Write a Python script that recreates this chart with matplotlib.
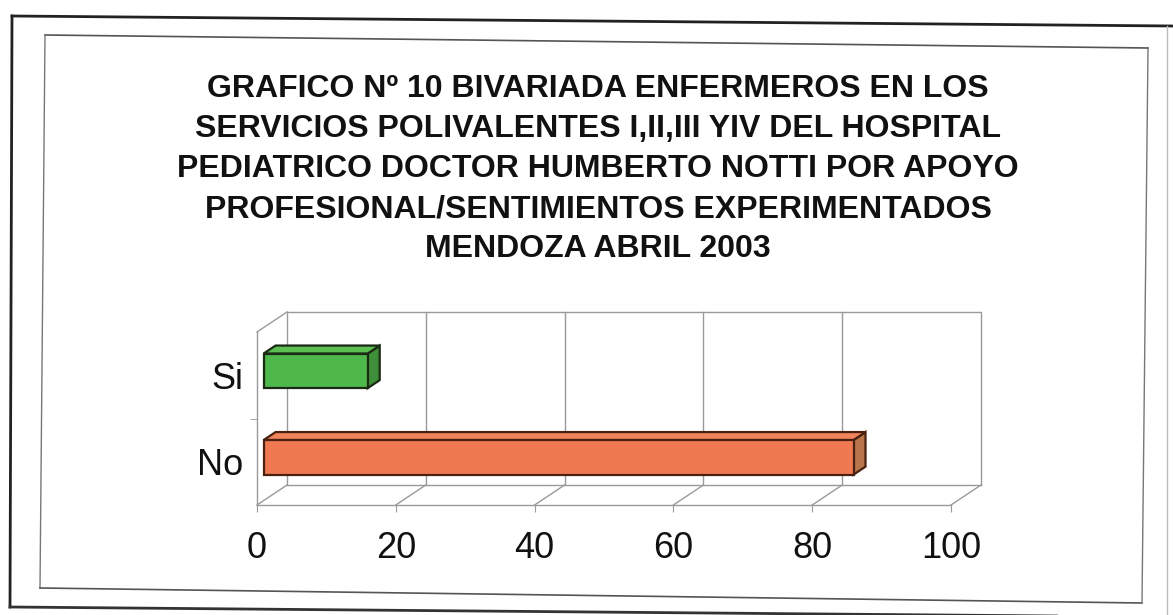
import matplotlib
matplotlib.use("Agg")
import matplotlib.pyplot as plt
from matplotlib.patches import Polygon
from matplotlib.lines import Line2D

# ---- data ----
categories = ["No", "Si"]
values = [85, 15]
xticks = [0, 20, 40, 60, 80, 100]
xticklabels = ["0", "20", "40", "60", "80", "100"]
title_lines = [
    "GRAFICO Nº 10 BIVARIADA ENFERMEROS EN LOS",
    "SERVICIOS POLIVALENTES I,II,III YIV DEL HOSPITAL",
    "PEDIATRICO DOCTOR HUMBERTO NOTTI POR APOYO",
    "PROFESIONAL/SENTIMIENTOS EXPERIMENTADOS",
    "MENDOZA ABRIL 2003",
]
face_colors = ["#ef7a52", "#4fb84a"]
top_colors = ["#f0845c", "#5cbf52"]
side_colors = ["#b8744a", "#3f8f3a"]
edge_colors = ["#4a2010", "#1a2a14"]

W, H = 1173, 615
fig = plt.figure(figsize=(W / 100, H / 100), dpi=100)
fig.patch.set_facecolor("white")

# front plane of the 3D box (pixels, top-origin)
x0px, x1px, ytop, ybot = 257, 951, 332, 505
ax = fig.add_axes([x0px / W, 1 - ybot / H, (x1px - x0px) / W, (ybot - ytop) / H])
ax.set_xlim(0, 100)
ax.set_ylim(0, 2)
ax.set_facecolor("none")

grid_c = "#9a9a9a"
for s in ["top", "right"]:
    ax.spines[s].set_visible(False)
for s in ["left", "bottom"]:
    ax.spines[s].set_color(grid_c)
    ax.spines[s].set_linewidth(1.0)

ax.set_xticks(xticks)
ax.set_xticklabels(xticklabels, fontsize=26, family="Liberation Sans", color="#111111")
ax.tick_params(axis="x", length=5, color=grid_c, pad=14)
ypos = [0.5, 1.5]
ax.set_yticks(ypos)
ax.set_yticklabels(categories, fontsize=26, family="Liberation Sans", color="#111111")
ax.tick_params(axis="y", length=0, pad=10)
ax.set_yticks([1.0], minor=True)
ax.tick_params(axis="y", which="minor", length=5, color=grid_c)

# depth offset in data units
px_x = (x1px - x0px) / 100.0
px_y = (ybot - ytop) / 2.0
DX, DY = 30 / px_x, 20 / px_y


def off(f):
    return f * DX, f * DY


bx, by = off(1.0)
kw = dict(color=grid_c, lw=1.0, clip_on=False)
# back wall
ax.plot([0 + bx, 100 + bx, 100 + bx], [2 + by, 2 + by, 0 + by], **kw)
ax.plot([0 + bx, 0 + bx], [0 + by, 2 + by], **kw)
ax.plot([0 + bx, 100 + bx], [0 + by, 0 + by], **kw)
for t in xticks[1:-1]:
    ax.plot([t + bx, t + bx], [0 + by, 2 + by], **kw)
# floor diagonals
for t in xticks:
    ax.plot([t, t + bx], [0, by], **kw)
# left wall top diagonal
ax.plot([0, bx], [2, 2 + by], **kw)

# bars
h = 0.2
fx, fy = off(0.22)
kx, ky = off(0.62)
for i, (c, v) in enumerate(zip(ypos, values)):
    ec = edge_colors[i]
    front = [(fx, c - h + fy), (v + fx, c - h + fy), (v + fx, c + h + fy), (fx, c + h + fy)]
    top = [(fx, c + h + fy), (v + fx, c + h + fy), (v + kx, c + h + ky), (kx, c + h + ky)]
    side = [(v + fx, c - h + fy), (v + kx, c - h + ky), (v + kx, c + h + ky), (v + fx, c + h + fy)]
    for pts, col in [(side, side_colors[i]), (top, top_colors[i]), (front, face_colors[i])]:
        ax.add_patch(Polygon(pts, closed=True, facecolor=col, edgecolor=ec,
                             lw=1.6, clip_on=False, zorder=3))

# title
for k, line in enumerate(title_lines):
    fig.text(598 / W, 1 - (89 + 40 * k) / H, line, ha="center", va="center",
             fontsize=23, fontweight="bold", family="Liberation Sans", color="#111111")

# scanned page frames (pixel coords)
def fline(xs, ys, **k):
    fig.add_artist(Line2D([x / W for x in xs], [1 - y / H for y in ys], **k))

fline([12, 1173], [16, 26], color="#222222", lw=2.0)
fline([12, 10], [16, 607], color="#222222", lw=2.0)
fline([10, 1173], [607, 617], color="#333333", lw=2.0)
fline([1167, 1167], [26, 615], color="#bbbbbb", lw=1.0)
fline([45, 1148], [35, 48], color="#555555", lw=1.2)
fline([45, 40], [35, 588], color="#777777", lw=1.0)
fline([40, 1142], [588, 603], color="#555555", lw=1.2)
fline([1148, 1142], [48, 603], color="#777777", lw=1.0)

fig.savefig("out.png", dpi=100)
